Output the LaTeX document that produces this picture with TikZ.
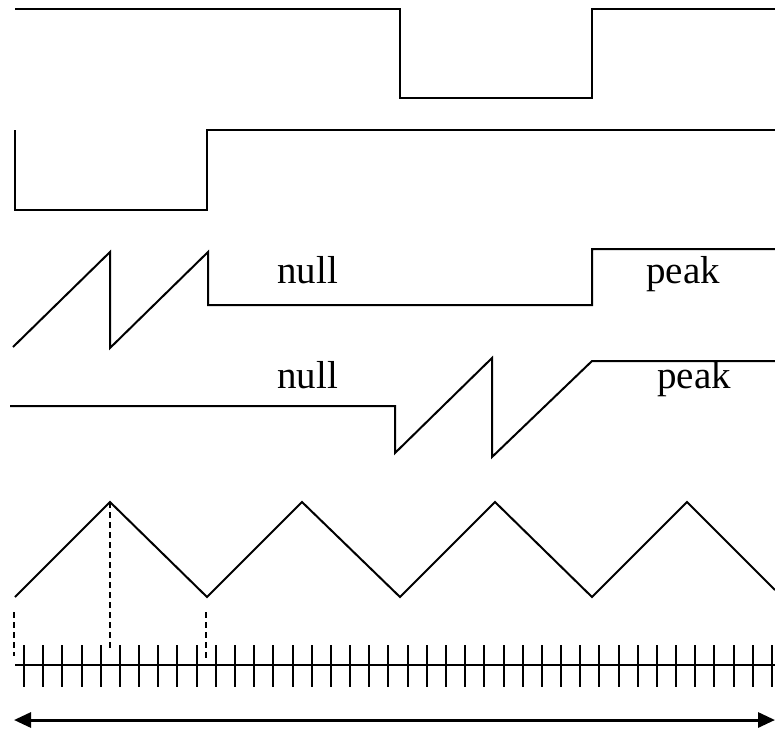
\documentclass[tikz,border=0pt]{standalone}
\usepackage{fontspec}
\setmainfont{Liberation Serif}
\usetikzlibrary{arrows.meta}
\begin{document}
\begin{tikzpicture}[x=1pt,y=-1pt,
  wave/.style={line width=2pt,line join=miter},
  guide/.style={line width=1.4pt,dash pattern=on 6pt off 4pt},
  tick/.style={line width=2pt},
  label/.style={anchor=base,inner sep=0pt,font=\fontsize{39}{46}\selectfont}]
\useasboundingbox (0,0) rectangle (775,728);

% first square wave
\draw[wave] (15,9) -- (400,9) -- (400,98) -- (592,98) -- (592,9) -- (775,9);

% second square wave
\draw[wave] (15,130) -- (15,210) -- (207,210) -- (207,130) -- (775,130);

% sawtooth then flat levels
\draw[wave] (13,347) -- (110,252) -- (110,348) -- (208,252) -- (208,305)
  -- (592,305) -- (592,249) -- (775,249);
\node[label] (null1) at (307.5,283) {null};
\node[label] (peak1) at (683,283) {peak};

% flat level then sawtooth and ramp
\draw[wave] (10,406) -- (395,406) -- (395,453) -- (492,358) -- (492,457)
  -- (592,361) -- (775,361);
\node[label] (null2) at (307.5,388) {null};
\node[label] (peak2) at (694,388) {peak};

% triangle wave
\draw[wave] (15,597) -- (110,502) -- (207,597) -- (302,502) -- (400,597)
  -- (495,502) -- (592,597) -- (687,502) -- (775,590);

% dashed guides down to the time axis
\draw[guide] (14,612) -- (14,656);
\draw[guide] (110,502) -- (110,650);
\draw[guide] (206,612) -- (206,658);

% time axis with ticks
\draw[line width=1.8pt] (15,665) -- (775,665);
\foreach \k in {0,...,39}
  \draw[tick] ({24+19.18*\k},645) -- ({24+19.18*\k},687);

% span arrow
\coordinate (spanL) at (14,720);
\coordinate (spanR) at (775,720);
\draw[line width=3pt,{Triangle[length=17pt,width=15pt]}-{Triangle[length=17pt,width=15pt]}] (spanL) -- (spanR);
\end{tikzpicture}
\end{document}
